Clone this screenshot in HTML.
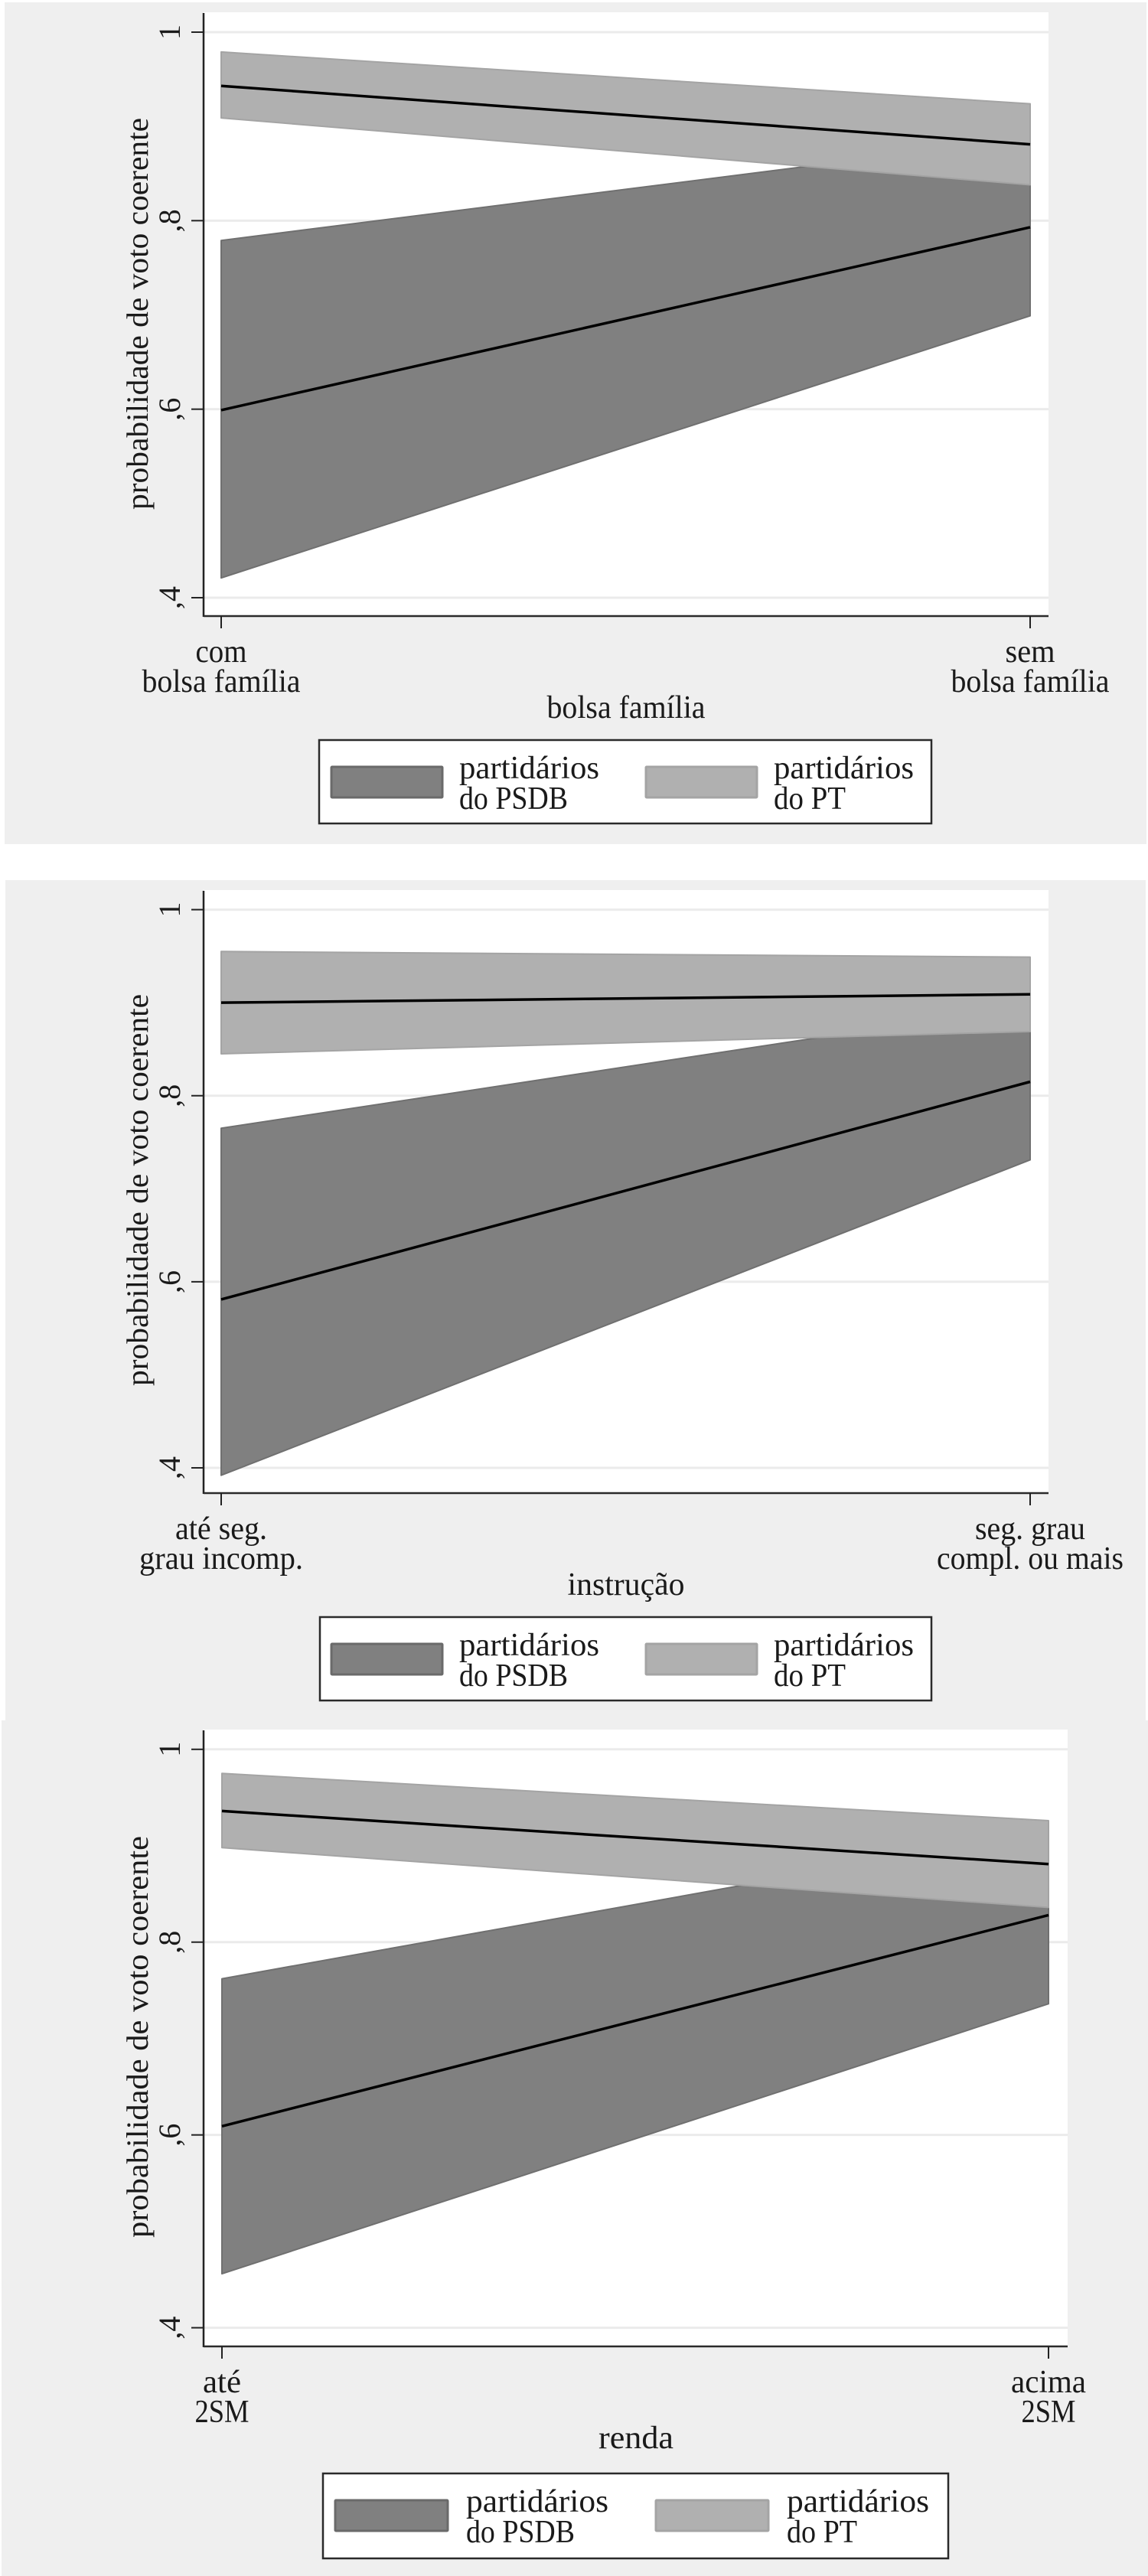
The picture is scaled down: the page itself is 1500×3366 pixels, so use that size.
<!DOCTYPE html>
<html lang="pt">
<head>
<meta charset="utf-8">
<title>Probabilidade de voto coerente</title>
<style>
html,body{margin:0;padding:0;background:#fff;}
svg{display:block;}
text{font-family:"Liberation Serif",serif;fill:#1a1a1a;}
</style>
</head>
<body>
<svg id="figure" xmlns="http://www.w3.org/2000/svg" width="1500" height="3366" viewBox="0 0 1500 3366">
  <g id="panel-1"></g>
  <g id="panel-2"></g>
  <g id="panel-3"></g>
</svg>
<script>
// Shared axis data
const yTickValues = [1, 0.8, 0.6, 0.4];
const yTickLabels = ['1', ',8', ',6', ',4'];
const yAxisTitle = 'probabilidade de voto coerente';
const legendLabelsPsdb = ['partidários', 'do PSDB'];
const legendLabelsPt = ['partidários', 'do PT'];

// Chart 1: bolsa família
const categories1 = [['com', 'bolsa família'], ['sem', 'bolsa família']];
const xTitle1 = 'bolsa família';
const psdbUpper1 = [0.779, 0.8875];
const psdbMean1 = [0.599, 0.793];
const psdbLower1 = [0.421, 0.699];
const ptUpper1 = [0.979, 0.924];
const ptMean1 = [0.943, 0.881];
const ptLower1 = [0.909, 0.838];

// Chart 2: instrução
const categories2 = [['até seg.', 'grau incomp.'], ['seg. grau', 'compl. ou mais']];
const xTitle2 = 'instrução';
const psdbUpper2 = [0.765, 0.897];
const psdbMean2 = [0.581, 0.815];
const psdbLower2 = [0.392, 0.731];
const ptUpper2 = [0.955, 0.949];
const ptMean2 = [0.900, 0.909];
const ptLower2 = [0.845, 0.869];

// Chart 3: renda
const categories3 = [['até', '2SM'], ['acima', '2SM']];
const xTitle3 = 'renda';
const psdbUpper3 = [0.762, 0.916];
const psdbMean3 = [0.609, 0.828];
const psdbLower3 = [0.456, 0.736];
const ptUpper3 = [0.975, 0.926];
const ptMean3 = [0.936, 0.881];
const ptLower3 = [0.898, 0.836];

const charts = [
  { host: 'panel-1',
    data: { cats: categories1, title: xTitle1, pu: psdbUpper1, pm: psdbMean1, pl: psdbLower1, tu: ptUpper1, tm: ptMean1, tl: ptLower1 },
    box: { bg: [6, 3, 1492, 1100], left: 266, right: 1370, top: 16, bottom: 805, x0: 289, x1: 1346, yOne: 42, yFour: 781 },
    text: { catW: [[67, 207], [65, 207]], titleW: 207, titleX: 818, yTitleC: 410, yTitleL: 512 },
    leg: { x: 417, y: 967, w: 800, h: 109, sw: [433, 844], swW: 145, tx: [600, 1011], w1: 183, w2: [142, 94] } },
  { host: 'panel-2',
    data: { cats: categories2, title: xTitle2, pu: psdbUpper2, pm: psdbMean2, pl: psdbLower2, tu: ptUpper2, tm: ptMean2, tl: ptLower2 },
    box: { bg: [7, 1150, 1490, 1098], left: 266, right: 1370, top: 1163, bottom: 1951, x0: 289, x1: 1346, yOne: 1188.6, yFour: 1918 },
    text: { catW: [[120, 214], [144, 244]], titleW: 153, titleX: 818, yTitleC: 1555, yTitleL: 512 },
    leg: { x: 418, y: 2113, w: 799, h: 109, sw: [433, 844], swW: 145, tx: [600, 1011], w1: 183, w2: [142, 94] } },
  { host: 'panel-3',
    data: { cats: categories3, title: xTitle3, pu: psdbUpper3, pm: psdbMean3, pl: psdbLower3, tu: ptUpper3, tm: ptMean3, tl: ptLower3 },
    box: { bg: [2, 2248, 1498, 1118], left: 266, right: 1395, top: 2260, bottom: 3066, x0: 290, x1: 1370, yOne: 2285.8, yFour: 3041.6 },
    text: { catW: [[50, 71], [98, 71]], titleW: 98, titleX: 831, yTitleC: 2661.5, yTitleL: 525 },
    leg: { x: 422, y: 3232, w: 817, h: 111, sw: [438, 857], swW: 147, tx: [609, 1028], w1: 186, w2: [142, 92] } }
];

const SVG_NS = 'http://www.w3.org/2000/svg';

function make(parent, tag, attrs, content) {
  const node = document.createElementNS(SVG_NS, tag);
  Object.keys(attrs).forEach(function (k) { node.setAttribute(k, attrs[k]); });
  if (content !== undefined) node.textContent = content;
  parent.appendChild(node);
  return node;
}

function fitted(width) {
  return { textLength: width, lengthAdjust: 'spacingAndGlyphs' };
}

function drawChart(chart) {
  const g = document.getElementById(chart.host);
  const b = chart.box, d = chart.data, t = chart.text, l = chart.leg;
  const xScale = function (i) { return b.x0 + (b.x1 - b.x0) * i; };
  const yScale = function (v) { return b.yOne + (1 - v) * (b.yFour - b.yOne) / 0.6; };
  let el;

  el = make(g, 'rect', { x: b.bg[0], y: b.bg[1], width: b.bg[2], height: b.bg[3], fill: '#efefef' });
  
  

  el = make(g, 'rect', { x: b.left, y: b.top, width: b.right - b.left, height: b.bottom - b.top, fill: '#ffffff' });
  
  

  yTickValues.forEach(function (v, i) {
    const y = yScale(v);
    let n = make(g, 'line', { x1: b.left, x2: b.right, y1: y, y2: y, stroke: '#ebebeb', 'stroke-width': 3 });
    
    
    n = make(g, 'line', { x1: b.left - 16, x2: b.left, y1: y, y2: y, stroke: '#222', 'stroke-width': 2 });
    
    
    n = make(g, 'text', { x: 235, y: y, 'font-size': 40, 'text-anchor': 'middle', transform: 'rotate(-90 235 ' + y + ')' }, yTickLabels[i]);
    
    
  });

  const band = function (up, lo, fill, edge) {
    const pts = [[xScale(0), yScale(up[0])], [xScale(1), yScale(up[1])], [xScale(1), yScale(lo[1])], [xScale(0), yScale(lo[0])]];
    return make(g, 'polygon', { points: pts.map(function (p) { return p.join(','); }).join(' '), fill: fill, stroke: edge, 'stroke-width': 2, 'stroke-linejoin': 'round' });
  };
  const meanLine = function (m) {
    return make(g, 'line', { x1: xScale(0), y1: yScale(m[0]), x2: xScale(1), y2: yScale(m[1]), stroke: '#000', 'stroke-width': 3.5 });
  };

  el = band(d.pu, d.pl, '#808080', '#707070');
  
  

  el = band(d.tu, d.tl, '#b0b0b0', '#a4a4a4');
  
  

  el = meanLine(d.pm);
  
  

  el = meanLine(d.tm);
  
  

  el = make(g, 'line', { x1: b.left, x2: b.left, y1: b.top + 1, y2: b.bottom + 1, stroke: '#222', 'stroke-width': 2.5 });
  
  

  el = make(g, 'line', { x1: b.left, x2: b.right, y1: b.bottom, y2: b.bottom, stroke: '#2a2a2a', 'stroke-width': 2.5 });
  
  

  d.cats.forEach(function (lines, i) {
    const x = xScale(i);
    let n = make(g, 'line', { x1: x, x2: x, y1: b.bottom, y2: b.bottom + 16, stroke: '#222', 'stroke-width': 2 });
    
    
    n = make(g, 'text', Object.assign({ x: x, y: b.bottom + 60, 'font-size': 42, 'text-anchor': 'middle' }, fitted(t.catW[i][0])), lines[0]);
    
    
    n = make(g, 'text', Object.assign({ x: x, y: b.bottom + 99, 'font-size': 42, 'text-anchor': 'middle' }, fitted(t.catW[i][1])), lines[1]);
    
    
  });

  el = make(g, 'text', Object.assign({ x: t.titleX, y: b.bottom + 133, 'font-size': 42, 'text-anchor': 'middle' }, fitted(t.titleW)), d.title);
  
  

  el = make(g, 'text', Object.assign({ x: 193, y: t.yTitleC, 'font-size': 40, 'text-anchor': 'middle', transform: 'rotate(-90 193 ' + t.yTitleC + ')' }, fitted(t.yTitleL)), yAxisTitle);
  
  

  el = make(g, 'rect', { x: l.x, y: l.y, width: l.w, height: l.h, fill: '#ffffff', stroke: '#2a2a2a', 'stroke-width': 2.5 });
  
  

  el = make(g, 'rect', { x: l.sw[0], y: l.y + 35, width: l.swW, height: 40, rx: 1, fill: '#808080', stroke: '#6a6a6a', 'stroke-width': 3 });
  
  

  el = make(g, 'text', Object.assign({ x: l.tx[0], y: l.y + 50, 'font-size': 42 }, fitted(l.w1)), legendLabelsPsdb[0]);
  
  

  el = make(g, 'text', Object.assign({ x: l.tx[0], y: l.y + 90, 'font-size': 42 }, fitted(l.w2[0])), legendLabelsPsdb[1]);
  
  

  el = make(g, 'rect', { x: l.sw[1], y: l.y + 35, width: l.swW, height: 40, rx: 1, fill: '#b0b0b0', stroke: '#a4a4a4', 'stroke-width': 3 });
  
  

  el = make(g, 'text', Object.assign({ x: l.tx[1], y: l.y + 50, 'font-size': 42 }, fitted(l.w1)), legendLabelsPt[0]);
  
  

  el = make(g, 'text', Object.assign({ x: l.tx[1], y: l.y + 90, 'font-size': 42 }, fitted(l.w2[1])), legendLabelsPt[1]);
  
  
}

charts.forEach(drawChart);
</script>
</body>
</html>
